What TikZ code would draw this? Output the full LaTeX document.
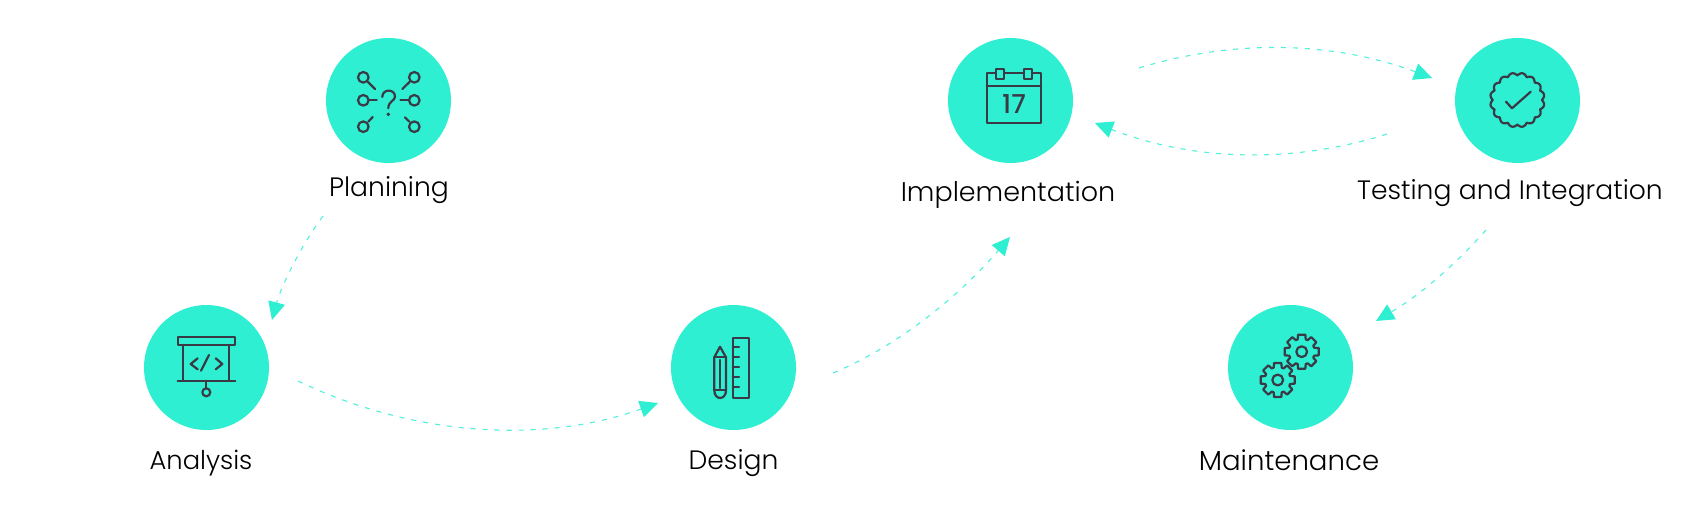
\documentclass[tikz,border=0pt]{standalone}
\usepackage{fontspec}
\setmainfont{Poppins Light}
\newfontfamily\numfont{Poppins Medium}
\usetikzlibrary{arrows.meta}
\definecolor{teal1}{HTML}{2FEFD2}
\definecolor{ink}{HTML}{3A3A46}
\tikzset{
  x=1pt,y=-1pt,
  disc/.style={circle,fill=teal1,draw=none,minimum size=125pt,inner sep=0pt},
  lab/.style={font=\fontsize{#1}{30}\selectfont,text=black,inner sep=0pt,anchor=center},
  lab/.default=26.6,
  icon/.style={draw=ink,line width=2.2pt,line join=round,line cap=round},
  flow/.style={draw=teal1!85,line width=1.1pt,dash pattern=on 5pt off 7pt,-{Triangle[length=18pt,width=17pt,color=teal1,fill=teal1]}}
}
\newcommand{\gearicon}[2]{%
  \begin{scope}[shift={(#1,#2)}]
    \draw[icon] (-243:13) \foreach \a in {-225,-180,-135,-90,-45,0,45,90}{
      -- ({\a-18}:13)  -- ({\a-12}:17.4) -- ({\a+12}:17.4) -- ({\a+18}:13)
    } -- cycle;
    \draw[icon] (0,0) circle[radius=5.4];
  \end{scope}}
\begin{document}
\begin{tikzpicture}
\useasboundingbox (0,0) rectangle (1700,520);
\node[disc] (plan)   at (388.5,100.5) {};
\node[disc] (anal)   at (206.5,367.5) {};
\node[disc] (desg)   at (733.5,367.5) {};
\node[disc] (impl)   at (1010.5,100.5) {};
\node[disc] (test)   at (1517.5,100.5) {};
\node[disc] (main)   at (1290.5,367.5) {};
\node[lab] (lplan) at (389,190.5) {Planining};
\node[lab=25.8] (lanal) at (201,463.5) {Analysis};
\node[lab] (ldesg) at (733.5,463) {Design};
\node[lab=27] (limpl) at (1008,194.5) {Implementation};
\node[lab] (ltest) at (1510,193.5) {Testing and Integration};
\node[lab=27.6] (lmain) at (1289,460) {Maintenance};
% connector end points
\coordinate (a1) at (323,216); \coordinate (a2) at (272,320);
\coordinate (b1) at (298,381); \coordinate (b2) at (658,403);
\coordinate (c1) at (833,373); \coordinate (c2) at (1010,237);
\coordinate (d1) at (1139,68); \coordinate (d2) at (1432,78);
\coordinate (e1) at (1387,134); \coordinate (e2) at (1095,123);
\coordinate (f1) at (1486,230); \coordinate (f2) at (1376,321);
\draw[flow] (a1) .. controls (298,250) and (280,290) .. (a2);
\draw[flow] (b1) .. controls (410,435) and (540,445) .. (b2);
\draw[flow] (c1) .. controls (900,345) and (960,295) .. (c2);
\draw[flow] (d1) .. controls (1230,40) and (1330,40) .. (d2);
\draw[flow] (e1) .. controls (1290,165) and (1190,160) .. (e2);
\draw[flow] (f1) .. controls (1455,265) and (1420,295) .. (f2);
% planning icon
\foreach \x/\y in {363.3/77.3,363.3/100.3,363.3/126.7,414.3/77.3,414.3/100.3,414.3/126.7}
  \draw[icon] (\x,\y) circle[radius=5.3];
\draw[icon] (368,82) -- (375,89);
\draw[icon] (369,100.3) -- (376.7,100.3);
\draw[icon] (368.3,121.7) -- (372.7,117);
\draw[icon] (409.5,82) -- (402.3,89);
\draw[icon] (408.5,100.3) -- (400.5,100.3);
\draw[icon] (409.3,121.7) -- (405,117.3);
\draw[icon] (382.3,97) .. controls (382.3,88.5) and (395,88.5) .. (395,96.7) .. controls (395,101) and (388.3,101) .. (388.3,108.3);
\fill[ink] (388.3,114.3) circle[radius=1.9];
% analysis icon
\draw[icon] (177.7,336.7) rectangle (235.3,345);
\draw[icon] (183.3,345) -- (183.3,380.7);
\draw[icon] (229.3,345) -- (229.3,380.7);
\draw[icon] (177.7,380.7) -- (235.3,380.7);
\draw[icon] (206.3,380.7) -- (206.3,388.3);
\draw[icon] (206.3,392.3) circle[radius=4];
\draw[icon] (197.7,358.3) -- (190.7,364) -- (197.7,369.3);
\draw[icon] (209,355) -- (201,370.7);
\draw[icon] (215.7,358.3) -- (222.3,364) -- (215.7,369.3);
% design icon
\draw[icon] (732.7,338.3) rectangle (749.3,398.3);
\foreach \y in {346.7,356.7,366.7,377.3,387.3} \draw[icon] (732.7,\y) -- (739,\y);
\draw[icon] (714.3,390.3) -- (714.3,357.3) -- (720,346.7) -- (726,357.3) -- (726,390.3) .. controls (726,400.5) and (714.3,400.5) .. (714.3,390.3);
\draw[icon] (714.3,357.3) -- (726,357.3);
\draw[icon] (714.3,390) -- (726,390);
\draw[icon] (720,360) -- (720,388);
% calendar icon
\draw[icon] (986.7,73.3) rectangle (1041.3,123);
\draw[icon] (986.7,85.7) -- (1041.3,85.7);
\draw[icon,fill=teal1] (996,68.7) rectangle (1003.7,78.7);
\draw[icon,fill=teal1] (1024,68.7) rectangle (1031.7,78.7);
\node[text=ink,font=\numfont\fontsize{26}{26}\selectfont,inner sep=0pt] (seventeen) at (1014,104.5) {17};
% testing icon
\draw[icon] plot[domain=0:360,samples=193,smooth] ({1517.3+(24.6+2.6*abs(sin(8*\x)))*cos(\x)},{100+(24.6+2.6*abs(sin(8*\x)))*sin(\x)}) -- cycle;
\draw[icon] (1506,101.7) -- (1512,108.3) -- (1530.7,91.7);
% maintenance icon
\gearicon{1301.7}{351.7}
\gearicon{1277.7}{380}
\end{tikzpicture}
\end{document}
